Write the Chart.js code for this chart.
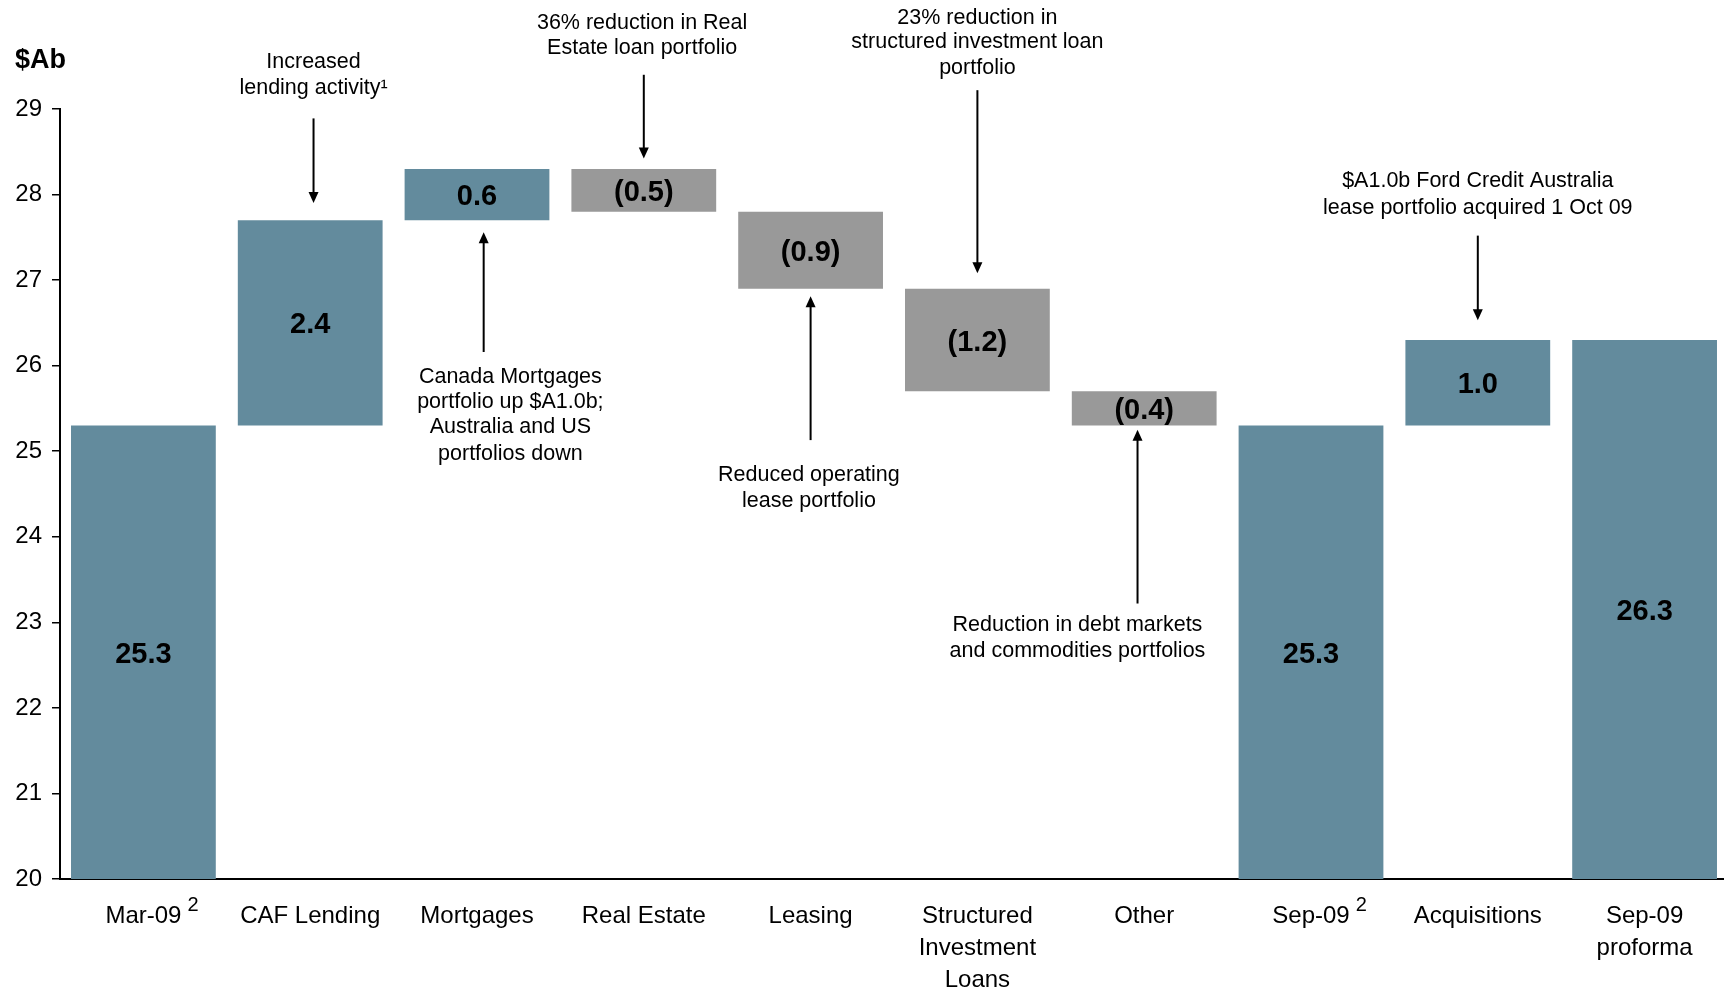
<!DOCTYPE html>
<html>
<head>
<meta charset="utf-8">
<title>Loan portfolio bridge</title>
<script src="https://cdn.jsdelivr.net/npm/chart.js@4/dist/chart.umd.min.js"></script>
<style>
  html, body { margin: 0; padding: 0; background: #fff; overflow: hidden; }
  #wrap { width: 1728px; height: 988px; position: relative; }
</style>
</head>
<body>
<div id="wrap"><canvas id="bridge"></canvas></div>
<script>
const categories = [
  'Mar-09', 'CAF Lending', 'Mortgages', 'Real Estate', 'Leasing',
  ['Structured', 'Investment', 'Loans'], 'Other', 'Sep-09', 'Acquisitions', ['Sep-09', 'proforma'],
];
const barStart = [20, 25.3, 27.7, 28.3, 27.8, 26.9, 25.7, 20, 25.3, 20];
const barEnd = [25.3, 27.7, 28.3, 27.8, 26.9, 25.7, 25.3, 25.3, 26.3, 26.3];
const barKind = ['total', 'up', 'up', 'down', 'down', 'down', 'down', 'total', 'up', 'total'];
const footnoted = [0, 7];
const yMin = 20;
const yMax = 29;

const FONT = 'Arial, "Liberation Sans", sans-serif';
const BLUE = '#638b9d';
const GREY = '#999999';

const barLabels = barStart.map((start, i) => {
  if (barKind[i] === 'total') return barEnd[i].toFixed(1);
  const diff = barEnd[i] - start;
  return diff >= 0 ? diff.toFixed(1) : `(${(-diff).toFixed(1)})`;
});

// callouts: category index (+ offset), text line values, arrow from/to values
const notes = [
  { at: 1.02, lines: ['Increased', 'lending activity¹'], textY: [29.57, 29.27], tx: 1.02, arrow: [28.89, 27.9] },
  { at: 3, lines: ['36% reduction in Real', 'Estate loan portfolio'], textY: [30.03, 29.73], tx: 2.99, arrow: [29.4, 28.42] },
  { at: 2.04, lines: ['Canada Mortgages', 'portfolio up $A1.0b;', 'Australia and US', 'portfolios down'], textY: [25.89, 25.6, 25.3, 24.99], tx: 2.2, arrow: [26.16, 27.56] },
  { at: 4, lines: ['Reduced operating', 'lease portfolio'], textY: [24.74, 24.44], tx: 3.99, arrow: [25.13, 26.81] },
  { at: 5, lines: ['23% reduction in', 'structured investment loan', 'portfolio'], textY: [30.09, 29.8, 29.5], tx: 5, arrow: [29.22, 27.08] },
  { at: 5.96, lines: ['Reduction in debt markets', 'and commodities portfolios'], textY: [22.99, 22.69], tx: 5.6, arrow: [23.22, 25.25] },
  { at: 8, lines: ['$A1.0b Ford Credit Australia', 'lease portfolio acquired 1 Oct 09'], textY: [28.18, 27.87], tx: 8, arrow: [27.52, 26.53] },
];

function drawArrow(ctx, x, y1, y2) {
  const dir = y2 > y1 ? 1 : -1;
  ctx.beginPath();
  ctx.moveTo(x, y1);
  ctx.lineTo(x, y2 - dir * 9);
  ctx.stroke();
  ctx.beginPath();
  ctx.moveTo(x, y2);
  ctx.lineTo(x - 5, y2 - dir * 11);
  ctx.lineTo(x + 5, y2 - dir * 11);
  ctx.closePath();
  ctx.fill();
}

const decorPlugin = {
  id: 'decor',
  afterDatasetsDraw(chart) {
    const { ctx, scales: { x, y } } = chart;
    const meta = chart.getDatasetMeta(0);
    ctx.save();
    ctx.fillStyle = '#000';
    ctx.textAlign = 'center';
    ctx.textBaseline = 'middle';
    ctx.font = `bold 29px ${FONT}`;
    meta.data.forEach((bar, i) => {
      ctx.fillText(barLabels[i], bar.x, (bar.y + bar.base) / 2 + 2.5);
    });

    ctx.font = `21.5px ${FONT}`;
    ctx.strokeStyle = '#000';
    ctx.lineWidth = 2;
    notes.forEach((note) => {
      const tx = x.getPixelForValue(note.tx);
      note.lines.forEach((line, j) => ctx.fillText(line, tx, y.getPixelForValue(note.textY[j]) + 2));
      drawArrow(ctx, x.getPixelForValue(note.at), y.getPixelForValue(note.arrow[0]), y.getPixelForValue(note.arrow[1]));
    });

    ctx.textAlign = 'left';
    ctx.font = `bold 27px ${FONT}`;
    ctx.fillText('$Ab', 15, 61);

    ctx.font = `24px ${FONT}`;
    footnoted.forEach((i) => {
      const w = ctx.measureText(categories[i]).width;
      const sx = x.getPixelForValue(i) + w / 2 + 6;
      ctx.font = `20px ${FONT}`;
      ctx.fillText('2', sx, 905);
      ctx.font = `24px ${FONT}`;
    });
    ctx.restore();
  },
};

new Chart(document.getElementById('bridge'), {
  type: 'bar',
  data: {
    labels: categories,
    datasets: [{
      data: barStart.map((s, i) => [s, barEnd[i]]),
      backgroundColor: barKind.map((k) => (k === 'down' ? GREY : BLUE)),
      borderWidth: 0,
      barPercentage: 0.868,
      categoryPercentage: 1,
    }],
  },
  options: {
    responsive: true,
    maintainAspectRatio: false,
    animation: false,
    layout: { padding: { top: 109, right: 0, bottom: 0, left: 0 } },
    plugins: {
      legend: { display: false },
      tooltip: { enabled: false },
    },
    scales: {
      x: {
        grid: { display: false, drawTicks: false },
        border: { color: '#000', width: 2 },
        ticks: {
          color: '#000',
          padding: 21,
          maxRotation: 0,
          autoSkip: false,
          font: { family: FONT, size: 24, lineHeight: 1.333 },
        },
        afterFit(scale) { scale.height = 109; },
      },
      y: {
        min: yMin,
        max: yMax,
        grid: { drawOnChartArea: false, drawTicks: true, tickLength: 8, color: '#000', lineWidth: 1.5 },
        border: { color: '#000', width: 2 },
        ticks: {
          stepSize: 1,
          color: '#000',
          padding: 10,
          font: { family: FONT, size: 24 },
        },
        afterFit(scale) { scale.width = 60; },
      },
    },
  },
  plugins: [decorPlugin],
});
</script>
</body>
</html>
